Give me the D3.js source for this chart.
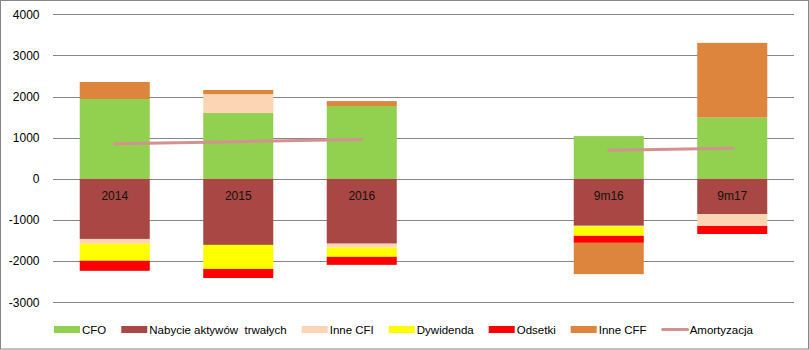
<!DOCTYPE html>
<html>
<head>
<meta charset="utf-8">
<script src="https://cdn.jsdelivr.net/npm/d3@7"></script>
<style>
  html, body { margin: 0; padding: 0; background: #fff; }
  svg { display: block; font-family: "Liberation Sans", Arial, sans-serif; }
</style>
</head>
<body>
<svg id="chart" width="809" height="350"></svg>
<script>
// ---- data ----
const categories = ["2014", "2015", "2016", "", "9m16", "9m17"];
const seriesNames = ["CFO", "Nabycie aktywów  trwałych", "Inne CFI", "Dywidenda", "Odsetki", "Inne CFF"];
const cfo        = [1940, 1600, 1770, 0, 1040, 1490];
const nabycie    = [-1460, -1605, -1575, 0, -1140, -855];
const inneCFIpos = [0, 460, 0, 0, 0, 0];
const inneCFIneg = [-115, 0, -95, 0, -15, -290];
const dywidenda  = [-415, -585, -225, 0, -230, 0];
const odsetki    = [-245, -220, -195, 0, -170, -195];
const inneCFF    = [415, 100, 120, 0, -760, 1815];
const amortyzacja = [855, 905, 955, null, 695, 745];
const lineName = "Amortyzacja";
const yTicks = [-3000, -2000, -1000, 0, 1000, 2000, 3000, 4000];

const colors = ["#92D050", "#A94744", "#FCD5B5", "#FFFF00", "#FF0000", "#DD843D"];
const lineColor = "#D39291";

// ---- layout ----
const svg = d3.select("#chart");
const W = 809, H = 350;
const plot = { left: 53, right: 794, top: 14.3, bottom: 302.3 };

svg.append("rect")
  .attr("x", 0.5).attr("y", 0.5).attr("width", 808).attr("height", 348.5)
  .attr("fill", "#fff").attr("stroke", "#868686").attr("stroke-width", 1);

const x = d3.scaleBand().domain(categories.map((c, i) => i))
  .range([plot.left, plot.right]).paddingInner(0.433).paddingOuter(0.2165);
const y = d3.scaleLinear().domain([-3000, 4000]).range([plot.bottom, plot.top]);

// gridlines
svg.append("g").selectAll("line").data(yTicks).join("line")
  .attr("x1", plot.left).attr("x2", plot.right)
  .attr("y1", d => Math.round(y(d)) + 0.5).attr("y2", d => Math.round(y(d)) + 0.5)
  .attr("stroke", "#868686").attr("stroke-width", 1);

// y axis labels
svg.append("g").selectAll("text").data(yTicks).join("text")
  .attr("x", 39.5).attr("y", d => y(d)).attr("dy", "0.35em")
  .attr("text-anchor", "end").attr("font-size", 12).attr("fill", "#000")
  .text(d => d);

// stacked data
const rows = categories.map((c, i) => ({
  i,
  s0: cfo[i], s1: nabycie[i], s2p: inneCFIpos[i], s2n: inneCFIneg[i],
  s3: dywidenda[i], s4: odsetki[i], s5: inneCFF[i]
}));
const keys = ["s0", "s1", "s2p", "s2n", "s3", "s4", "s5"];
const keyColor = { s0: colors[0], s1: colors[1], s2p: colors[2], s2n: colors[2], s3: colors[3], s4: colors[4], s5: colors[5] };
const stack = d3.stack().keys(keys).offset(d3.stackOffsetDiverging);
const stacked = stack(rows);

const gBars = svg.append("g");
stacked.forEach(layer => {
  gBars.append("g").attr("fill", keyColor[layer.key])
    .selectAll("rect").data(layer.filter(d => d[1] !== d[0])).join("rect")
    .attr("x", d => x(d.data.i))
    .attr("width", x.bandwidth())
    .attr("y", d => y(Math.max(d[0], d[1])))
    .attr("height", d => Math.abs(y(d[0]) - y(d[1])));
});

// amortyzacja line (broken at gap)
const line = d3.line()
  .defined(d => d != null)
  .x((d, i) => x(i) + x.bandwidth() / 2)
  .y(d => y(d));
svg.append("path").datum(amortyzacja)
  .attr("d", line).attr("fill", "none")
  .attr("stroke", lineColor).attr("stroke-width", 3).attr("stroke-linecap", "round");

// category labels
svg.append("g").selectAll("text").data(categories).join("text")
  .attr("x", (d, i) => x(i) + x.bandwidth() / 2)
  .attr("y", y(0) + 21.5)
  .attr("text-anchor", "middle").attr("font-size", 12).attr("fill", "#111")
  .text(d => d);

// legend
const legendItems = seriesNames.map((n, i) => ({ name: n, color: colors[i], type: "rect" }))
  .concat([{ name: lineName, color: lineColor, type: "line" }]);
const lg = svg.append("g");
let lx = 54;
const ly = 329.5;
legendItems.forEach(it => {
  const g = lg.append("g");
  if (it.type === "rect") {
    g.append("rect").attr("x", lx).attr("y", ly - 3.5).attr("width", 26).attr("height", 7).attr("fill", it.color);
  } else {
    g.append("line").attr("x1", lx + 1).attr("x2", lx + 26).attr("y1", ly).attr("y2", ly)
      .attr("stroke", it.color).attr("stroke-width", 3).attr("stroke-linecap", "round");
  }
  const t = g.append("text").attr("x", lx + 28).attr("y", ly).attr("dy", "0.35em")
    .attr("font-size", 11.5).attr("fill", "#000").style("white-space", "pre").text(it.name);
  lx += 28 + t.node().getComputedTextLength() + 15;
});
</script>
</body>
</html>
